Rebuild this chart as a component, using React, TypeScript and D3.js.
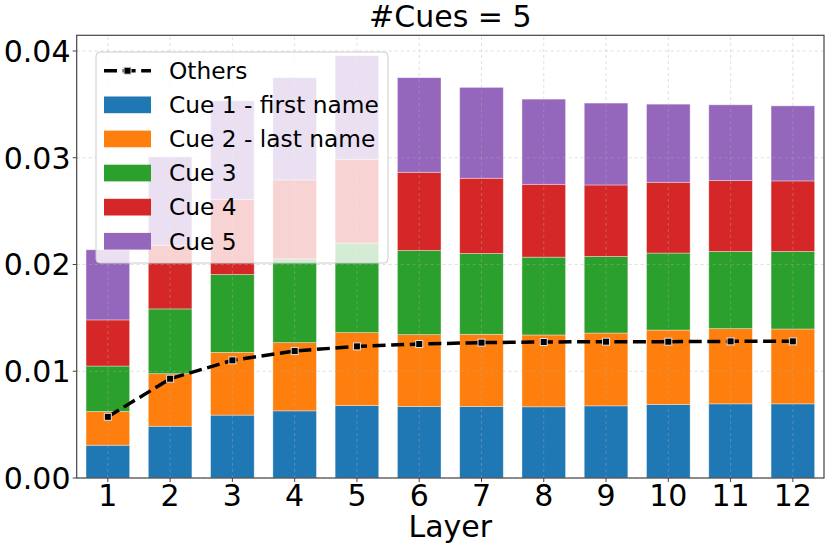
import React from 'react';
import * as d3 from 'd3';

const layers = [1, 2, 3, 4, 5, 6, 7, 8, 9, 10, 11, 12];

const cue1 = [0.00307, 0.00485, 0.00589, 0.00629, 0.00679, 0.0067, 0.0067, 0.00667, 0.00676, 0.00689, 0.00695, 0.00695];
const cue2 = [0.00316, 0.00492, 0.00588, 0.00639, 0.00683, 0.00673, 0.00676, 0.00673, 0.00682, 0.00697, 0.00704, 0.00701];
const cue3 = [0.00426, 0.00607, 0.00729, 0.00785, 0.00838, 0.00788, 0.00757, 0.00729, 0.00717, 0.00721, 0.00723, 0.00726];
const cue4 = [0.00432, 0.00594, 0.00704, 0.00739, 0.00786, 0.00733, 0.00705, 0.00682, 0.0067, 0.00663, 0.00664, 0.00661];
const cue5 = [0.00657, 0.0083, 0.00924, 0.00958, 0.0097, 0.00886, 0.00851, 0.00798, 0.00767, 0.00732, 0.0071, 0.00703];
const others = [0.00573, 0.0093, 0.01102, 0.0119, 0.01233, 0.01255, 0.01268, 0.01274, 0.01277, 0.01277, 0.0128, 0.0128];

const seriesNames = ['Cue 1 - first name', 'Cue 2 - last name', 'Cue 3', 'Cue 4', 'Cue 5'];
const seriesColors = ['#1f77b4', '#ff7f0e', '#2ca02c', '#d62728', '#9467bd'];
const yTicks = [0, 0.01, 0.02, 0.03, 0.04];

const W = 830;
const H = 551;
const FONT = 'DejaVu Sans, sans-serif';

const App: React.FC = () => {
  const x = d3.scaleLinear().domain([0.5, 12.5]).range([76.7, 824]);
  const y = d3.scaleLinear().domain([0, 0.04147]).range([478, 35.3]);
  const barW = x(0.7) - x(0);

  const keys = ['c1', 'c2', 'c3', 'c4', 'c5'];
  const table = layers.map((l, i) => ({
    layer: l, c1: cue1[i], c2: cue2[i], c3: cue3[i], c4: cue4[i], c5: cue5[i],
  }));
  const stacked = d3.stack<any>().keys(keys)(table);

  const line = d3.line<number>()
    .x((_, i) => x(layers[i]))
    .y(d => y(d));

  const [x0, x1] = x.range();
  const [yb, yt] = y.range();

  const legendRows = [{ name: 'Others', color: 'black', line: true }]
    .concat(seriesNames.map((n, i) => ({ name: n, color: seriesColors[i], line: false })));

  return (
    <svg width={W} height={H} style={{ position: 'absolute', left: 0, top: 0, background: 'white' }}
      fontFamily={FONT}>
      {/* bars */}
      {stacked.map((s, si) => (
        <g key={si} fill={seriesColors[si]}>
          {s.map((d, i) => (
            <rect key={i} x={x(layers[i]) - barW / 2} width={barW}
              y={y(d[1])} height={y(d[0]) - y(d[1])}
              stroke="white" strokeOpacity={0.45} strokeWidth={0.8} />
          ))}
        </g>
      ))}

      {/* grid */}
      <g stroke="#b0b0b0" strokeOpacity={0.5} strokeWidth={0.8} strokeDasharray="3,3">
        {layers.map(l => <line key={'gx' + l} x1={x(l)} x2={x(l)} y1={yb} y2={yt} />)}
        {yTicks.map(t => <line key={'gy' + t} x1={x0} x2={x1} y1={y(t)} y2={y(t)} />)}
      </g>

      {/* others line */}
      <path d={line(others) ?? ''} fill="none" stroke="black" strokeWidth={3.5}
        strokeDasharray="13,5.6" />
      {others.map((v, i) => (
        <rect key={'m' + i} x={x(layers[i]) - 3.5} y={y(v) - 3.5} width={7} height={7}
          fill="black" stroke="#e0e0e0" strokeWidth={1} />
      ))}

      {/* spines */}
      <rect x={x0} y={yt} width={x1 - x0} height={yb - yt} fill="none" stroke="#444" strokeWidth={1.2} />

      {/* x ticks */}
      {layers.map(l => (
        <g key={'xt' + l}>
          <line x1={x(l)} x2={x(l)} y1={yb} y2={yb + 4} stroke="#444" strokeWidth={1} />
          <text x={x(l)} y={506} textAnchor="middle" fontSize={30} fill="black">{l}</text>
        </g>
      ))}
      {/* y ticks */}
      {yTicks.map(t => (
        <g key={'yt' + t}>
          <line x1={x0 - 4} x2={x0} y1={y(t)} y2={y(t)} stroke="#444" strokeWidth={1} />
          <text x={70.5} y={y(t)} dy="0.36em" textAnchor="end" fontSize={30} fill="black">
            {d3.format('.2f')(t)}
          </text>
        </g>
      ))}

      <text x={(x0 + x1) / 2} y={537} textAnchor="middle" fontSize={30} fill="black">Layer</text>
      <text x={(x0 + x1) / 2} y={27} textAnchor="middle" fontSize={30} fill="black">#Cues = 5</text>

      {/* legend */}
      <g>
        <rect x={96} y={52} width={292} height={211} rx={4} fill="white" fillOpacity={0.8}
          stroke="#cccccc" strokeWidth={1} />
        {legendRows.map((r, i) => {
          const cy = 70.7 + i * 34.1;
          return (
            <g key={'lg' + i}>
              {r.line ? (
                <g>
                  <line x1={104} x2={151} y1={cy} y2={cy} stroke="black" strokeWidth={3.5}
                    strokeDasharray="13,5.6" />
                  <rect x={127.5 - 3.5} y={cy - 3.5} width={7} height={7} fill="black"
                    stroke="#e0e0e0" strokeWidth={1} />
                </g>
              ) : (
                <rect x={104} y={cy - 8.3} width={47} height={16.7} fill={r.color} />
              )}
              <text x={169} y={cy} dy="0.36em" fontSize={23.3} fill="black">{r.name}</text>
            </g>
          );
        })}
      </g>
    </svg>
  );
};

export default App;
